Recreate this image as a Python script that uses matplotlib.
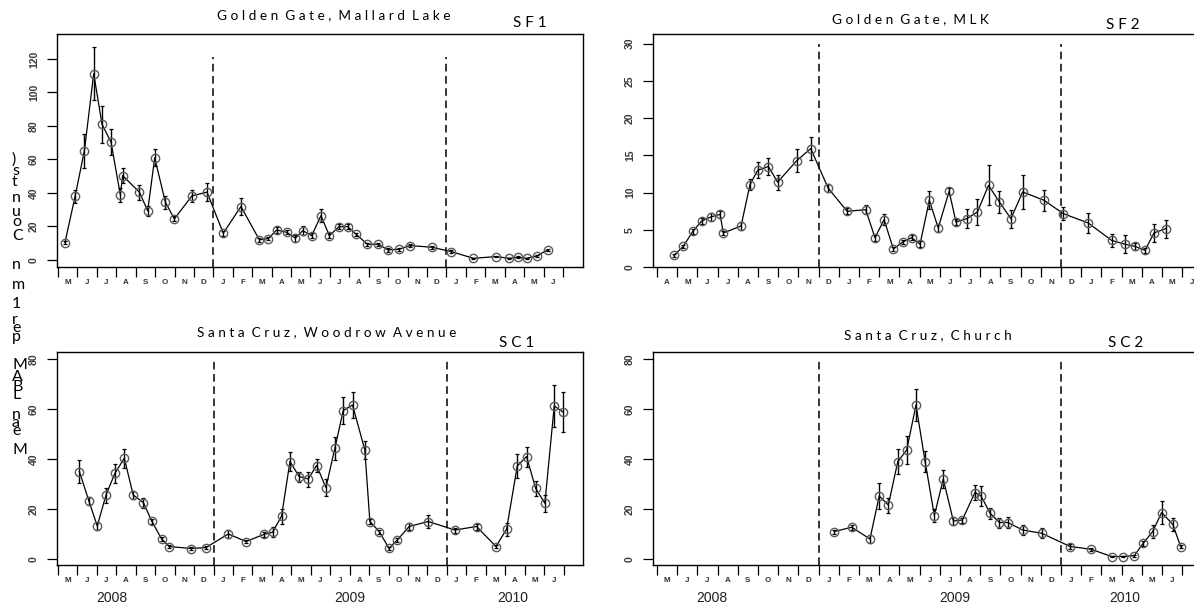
import numpy as np
import matplotlib.pyplot as plt

plt.rcParams['font.family'] = ['Liberation Sans', 'DejaVu Sans']

MONTH_INITIALS = list("JFMAMJJASOND")

# months since the first tick of each axis, mean count, error
sf1_month = [0.36, 0.88, 1.36, 1.84, 2.27, 2.73, 3.21, 3.33, 4.19, 4.62, 4.98, 5.53, 5.99,
             6.90, 7.67, 8.51, 9.42, 10.37, 10.83, 11.26, 11.78, 12.22, 12.60, 13.06, 13.54,
             13.97, 14.47, 14.92, 15.35, 15.93, 16.50, 16.98, 17.54, 18.13, 19.24, 20.24,
             21.39, 22.55, 23.24, 23.67, 24.13, 24.65, 25.22]
sf1_mean = [10.4, 37.9, 65.2, 111.2, 80.9, 70.4, 38.9, 50.4, 40.5, 29.3, 61.0, 34.5, 24.5,
            38.3, 40.5, 16.0, 31.9, 12.0, 12.8, 17.9, 16.5, 13.0, 17.5, 14.5, 26.5,
            14.5, 19.9, 19.9, 15.3, 9.4, 9.4, 6.0, 6.4, 8.6, 7.6, 5.0,
            1.0, 2.0, 1.0, 1.6, 1.0, 2.4, 6.0]
sf1_err = [0.8, 4.0, 10.0, 15.7, 11.0, 7.7, 4.3, 4.5, 4.5, 3.0, 5.2, 3.8, 1.5,
           3.7, 5.4, 1.5, 5.0, 1.0, 1.0, 2.0, 1.2, 2.0, 2.5, 1.5, 3.8,
           1.5, 1.5, 1.5, 1.0, 1.0, 1.0, 1.0, 1.0, 1.0, 0.8, 0.8,
           0.4, 0.4, 0.4, 0.5, 0.4, 0.6, 0.8]

sf2_month = [0.84, 1.30, 1.77, 2.21, 2.66, 3.12, 3.28, 4.16, 4.60, 4.98, 5.51, 5.97, 6.92,
             7.61, 8.47, 9.41, 10.33, 10.79, 11.24, 11.70, 12.16, 12.60, 13.02, 13.48,
             13.92, 14.46, 14.80, 15.33, 15.86, 16.41, 16.95, 17.52, 18.10, 19.16, 20.11,
             21.35, 22.50, 23.17, 23.66, 24.16, 24.60, 25.18]
sf2_mean = [1.57, 2.78, 4.79, 6.18, 6.72, 7.08, 4.57, 5.51, 11.06, 12.99, 13.50, 11.40, 14.30,
            15.90, 10.60, 7.48, 7.70, 3.94, 6.36, 2.42, 3.36, 3.94, 3.05, 8.96,
            5.24, 10.17, 6.05, 6.49, 7.39, 10.97, 8.73, 6.49, 10.08, 8.96, 7.17,
            5.91, 3.58, 3.05, 2.78, 2.24, 4.57, 5.15]
sf2_err = [0.2, 0.2, 0.3, 0.4, 0.6, 0.5, 0.3, 0.6, 0.7, 1.1, 1.2, 1.0, 1.5,
           1.5, 0.5, 0.4, 0.6, 0.4, 0.7, 0.3, 0.3, 0.3, 0.4, 1.2,
           0.5, 0.5, 0.4, 1.3, 1.7, 2.7, 1.5, 1.2, 2.3, 1.4, 0.9,
           1.3, 0.9, 1.2, 0.5, 0.3, 1.2, 1.2]

sc1_month = [1.10, 1.59, 2.02, 2.47, 2.93, 3.41, 3.87, 4.39, 4.82, 5.33, 5.72, 6.84, 7.61,
             8.76, 9.67, 10.61, 11.04, 11.50, 11.93, 12.40, 12.87, 13.30, 13.78, 14.24,
             14.67, 15.15, 15.78, 16.04, 16.52, 17.02, 17.45, 18.06, 19.04, 20.41, 21.53,
             22.52, 23.07, 23.62, 24.10, 24.56, 25.04, 25.52, 25.99]
sc1_mean = [35.1, 23.3, 13.3, 25.7, 34.4, 40.4, 25.7, 22.7, 15.3, 8.1, 5.1, 4.3, 4.7,
            10.1, 7.1, 10.0, 10.8, 17.3, 39.1, 33.1, 32.1, 37.5, 28.7, 44.4,
            59.5, 61.7, 43.7, 15.1, 11.1, 4.4, 7.7, 13.1, 15.1, 11.7, 13.1,
            5.1, 12.0, 37.3, 41.1, 28.4, 22.4, 61.3, 58.8]
sc1_err = [4.7, 1.5, 1.5, 3.0, 3.7, 3.7, 1.5, 2.0, 1.0, 0.8, 0.6, 0.5, 0.5,
           1.5, 0.6, 1.0, 2.0, 3.0, 3.7, 2.0, 3.0, 2.5, 3.5, 4.7,
           5.5, 5.3, 3.5, 1.0, 0.8, 0.6, 0.8, 1.5, 2.7, 1.0, 1.2,
           0.6, 2.7, 4.9, 4.0, 3.0, 3.3, 8.5, 8.0]

sc2_month = [8.78, 9.64, 10.54, 11.00, 11.45, 11.92, 12.36, 12.82, 13.27, 13.73, 14.17,
             14.67, 15.11, 15.74, 16.04, 16.49, 16.95, 17.36, 18.10, 19.04, 20.45, 21.49,
             22.50, 23.08, 23.63, 24.07, 24.54, 24.98, 25.53, 25.92]
sc2_mean = [11.1, 12.8, 8.1, 25.3, 21.7, 39.1, 43.7, 61.7, 39.1, 17.5, 32.1,
            15.3, 15.7, 26.7, 25.3, 18.4, 14.7, 14.7, 11.7, 10.4, 5.1, 4.0,
            1.1, 1.1, 1.5, 6.4, 11.1, 18.7, 14.0, 5.1]
sc2_err = [0.8, 1.0, 1.5, 5.3, 3.0, 5.1, 5.7, 6.3, 4.3, 2.5, 3.5,
           1.5, 1.0, 3.0, 4.0, 2.3, 2.0, 2.3, 2.0, 2.0, 1.0, 0.5,
           0.3, 0.3, 0.4, 1.0, 2.5, 4.7, 2.5, 0.6]

years = ['2008', '2009', '2010']

W, H = 1194, 607
fig = plt.figure(figsize=(W / 100, H / 100), dpi=100)


def px_axes(left, top, right, bottom):
    return fig.add_axes([left / W, 1 - bottom / H, (right - left) / W, (bottom - top) / H])


def fig_text(x, y, s, **kw):
    fig.text(x / W, 1 - y / H, s, **kw)


def spaced(s):
    return '  '.join(' '.join(w) for w in s.split(' '))


def draw_panel(ax, month, mean, err, first_month, n_labels, xlim, ylim, yticks, dash_top):
    ax.errorbar(month, mean, yerr=err, fmt='-', color='black', lw=0.9,
                elinewidth=1.0, capsize=1.5, capthick=0.9, zorder=2)
    ax.plot(month, mean, 'o', mfc='none', mec='#5a5a5a', ms=6, mew=1.0, zorder=3)
    ax.vlines([8, 20], ylim[0], dash_top, colors='black',
              linestyles=(0, (5, 3)), lw=1.1, zorder=1)
    ax.set_xlim(xlim)
    ax.set_ylim(ylim)

    ax.set_xticks(np.arange(0, 27))
    ax.set_xticklabels([])
    ax.set_xticks(np.arange(n_labels) + 0.5, minor=True)
    ax.set_xticklabels([MONTH_INITIALS[(first_month + k) % 12] for k in range(n_labels)],
                       minor=True, fontweight='bold', color='#333333')
    ax.tick_params(axis='x', which='major', length=7, width=0.9, direction='out')
    ax.tick_params(axis='x', which='minor', length=0, pad=9, labelsize=5.8)

    ax.set_yticks(yticks)
    ax.set_yticklabels([str(t) for t in yticks], rotation=90, va='center',
                       color='#3a3a3a', fontweight='bold')
    ax.tick_params(axis='y', length=7, width=0.9, pad=6, labelsize=7.5)
    for sp in ax.spines.values():
        sp.set_linewidth(1.0)


ax1 = px_axes(57, 34, 583, 267)
draw_panel(ax1, sf1_month, sf1_mean, sf1_err, 4, 26, (-0.05, 27.03), (-4.2, 134.9),
           [0, 20, 40, 60, 80, 100, 120], 121)

ax2 = px_axes(653, 34, 1200, 267)
draw_panel(ax2, sf2_month, sf2_mean, sf2_err, 3, 27, (-0.2, 26.88), (0, 31.3),
           [0, 5, 10, 15, 20, 25, 30], 30)

ax3 = px_axes(57, 352, 583, 565)
draw_panel(ax3, sc1_month, sc1_mean, sc1_err, 4, 26, (-0.05, 27.0), (-2.3, 82.9),
           [0, 20, 40, 60, 80], 80)

ax4 = px_axes(653, 352, 1200, 565)
draw_panel(ax4, sc2_month, sc2_mean, sc2_err, 4, 26, (-0.2, 26.88), (-2.3, 82.9),
           [0, 20, 40, 60, 80], 80)

# panel titles and site codes
title_kw = dict(family=['Lato', 'DejaVu Sans'], fontsize=9.8, ha='center', va='center')
fig_text(334, 15, spaced('Golden Gate, Mallard Lake'), **title_kw)
fig_text(910, 19, spaced('Golden Gate, MLK'), **title_kw)
fig_text(327, 332, spaced('Santa Cruz, Woodrow Avenue'), **title_kw)
fig_text(928, 335, spaced('Santa Cruz, Church'), **title_kw)

code_kw = dict(family=['Lato', 'DejaVu Sans'], fontsize=11, ha='center', va='center')
fig_text(530, 23, 'S F 1', **code_kw)
fig_text(1123, 25, 'S F 2', **code_kw)
fig_text(517, 343, 'S C 1', **code_kw)
fig_text(1126, 343, 'S C 2', **code_kw)

# year labels under the bottom row
year_kw = dict(fontsize=10, ha='center', va='center', color='#222222')
for x, yr in zip([112, 350, 513], years):
    fig_text(x, 598, yr, **year_kw)
for x, yr in zip([712, 955, 1125], years):
    fig_text(x, 598, yr, **year_kw)

# shared y label, glyphs stacked upright
ylabel_chars = [')', 's', 't', 'n', 'u', 'o', 'C', 'n', 'm', '1', 'r', 'e', 'p',
                'M', 'A', 'B', 'L', 'n', 'a', 'e', 'M']
ylabel_y = [160, 171, 182, 198, 212, 222, 236, 265, 285, 304, 320, 328, 337,
            365, 377, 387, 395, 415, 423, 431, 450]
for ch, y in zip(ylabel_chars, ylabel_y):
    fig_text(12, y, ch, family=['Lato', 'DejaVu Sans'], fontsize=11.5, ha='left', va='center')

fig.savefig('out.png', dpi=100)
